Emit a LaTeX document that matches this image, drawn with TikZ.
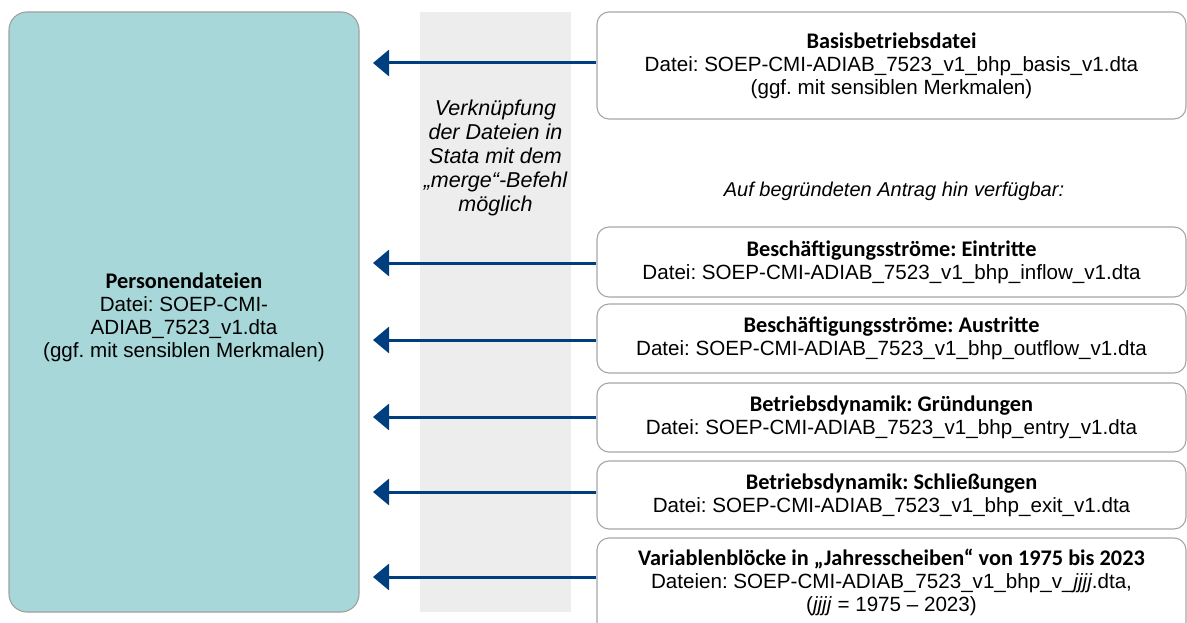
\documentclass[tikz,border=0pt]{standalone}
\usepackage{fontspec}
\setmainfont{Liberation Sans}
\newfontfamily\hdfont{Carlito}
\usetikzlibrary{arrows.meta}
\definecolor{pfill}{HTML}{A7D7D9}
\definecolor{pborder}{HTML}{A0A0A0}
\definecolor{bandgrey}{HTML}{EDEDED}
\definecolor{arrblue}{HTML}{003F7F}
\definecolor{bborder}{HTML}{A6A6A6}
\newcommand{\hdtxt}[1]{{\fontsize{22.3}{23}\selectfont\hdfont\bfseries #1}}
\frenchspacing
\begin{document}
\begin{tikzpicture}[x=1pt,y=-1pt,
  font=\fontsize{20.6}{23}\selectfont,
  filebox/.style={draw=bborder,line width=1.1pt,fill=white,rounded corners=12pt,
    minimum width=589pt,align=center,inner sep=0pt},
  arr/.style={draw=arrblue,line width=3pt,-{Triangle[length=16pt,width=26pt]}},
  itext/.style={font=\fontsize{20}{24}\selectfont\itshape,align=center,inner sep=0pt}]
\useasboundingbox (0,0) rectangle (1187,623);
% left person box
\node[draw=pborder,fill=pfill,line width=1.1pt,rounded corners=18pt,
  minimum width=350pt,minimum height=600pt,inner sep=0pt] (pers) at (184,312) {};
\node[align=center,inner sep=0pt] (perstext) at (184,317)
  {\hdtxt{Personendateien}\\Datei: SOEP-CMI-\\ADIAB\_7523\_v1.dta\\(ggf. mit sensiblen Merkmalen)};
% grey band
\node[fill=bandgrey,minimum width=151pt,minimum height=600pt,inner sep=0pt] (band) at (495.5,312) {};
\node[itext,font=\fontsize{21.5}{24}\selectfont\itshape] (merge) at (495.5,158) {Verknüpfung\\der Dateien in\\Stata mit dem\\„merge“-Befehl\\möglich};
% right boxes
\node[filebox,minimum height=107pt] (b1) at (891.5,65.5)
  {\hdtxt{Basisbetriebsdatei}\\Datei: SOEP-CMI-ADIAB\_7523\_v1\_bhp\_basis\_v1.dta\\(ggf. mit sensiblen Merkmalen)};
\node[itext] (antrag) at (894,191) {Auf begründeten Antrag hin verfügbar:};
\node[filebox,minimum height=70pt] (b2) at (891.5,262)
  {\hdtxt{Beschäftigungsströme: Eintritte}\\Datei: SOEP-CMI-ADIAB\_7523\_v1\_bhp\_inflow\_v1.dta};
\node[filebox,minimum height=69pt] (b3) at (891.5,338.5)
  {\hdtxt{Beschäftigungsströme: Austritte}\\Datei: SOEP-CMI-ADIAB\_7523\_v1\_bhp\_outflow\_v1.dta};
\node[filebox,minimum height=69pt] (b4) at (891.5,417.5)
  {\hdtxt{Betriebsdynamik: Gründungen}\\Datei: SOEP-CMI-ADIAB\_7523\_v1\_bhp\_entry\_v1.dta};
\node[filebox,minimum height=68pt] (b5) at (891.5,495)
  {\hdtxt{Betriebsdynamik: Schließungen}\\Datei: SOEP-CMI-ADIAB\_7523\_v1\_bhp\_exit\_v1.dta};
\node[filebox,minimum height=112pt] (b6) at (891.5,594) {};
\node[align=center,inner sep=0pt] (b6text) at (891.5,582)
  {\hdtxt{Variablenblöcke in „Jahresscheiben“ von 1975 bis 2023}\\Dateien: SOEP-CMI-ADIAB\_7523\_v1\_bhp\_v\_\textit{jjjj}.dta,\\(\textit{jjjj} = 1975 – 2023)};
% arrow tips
\coordinate (t1) at (373,63);
\coordinate (t2) at (373,263);
\coordinate (t3) at (373,340);
\coordinate (t4) at (373,417);
\coordinate (t5) at (373,492);
\coordinate (t6) at (373,577);
\draw[arr] (b1.west |- t1) -- (t1);
\draw[arr] (b2.west |- t2) -- (t2);
\draw[arr] (b3.west |- t3) -- (t3);
\draw[arr] (b4.west |- t4) -- (t4);
\draw[arr] (b5.west |- t5) -- (t5);
\draw[arr] (b6.west |- t6) -- (t6);
\end{tikzpicture}
\end{document}
